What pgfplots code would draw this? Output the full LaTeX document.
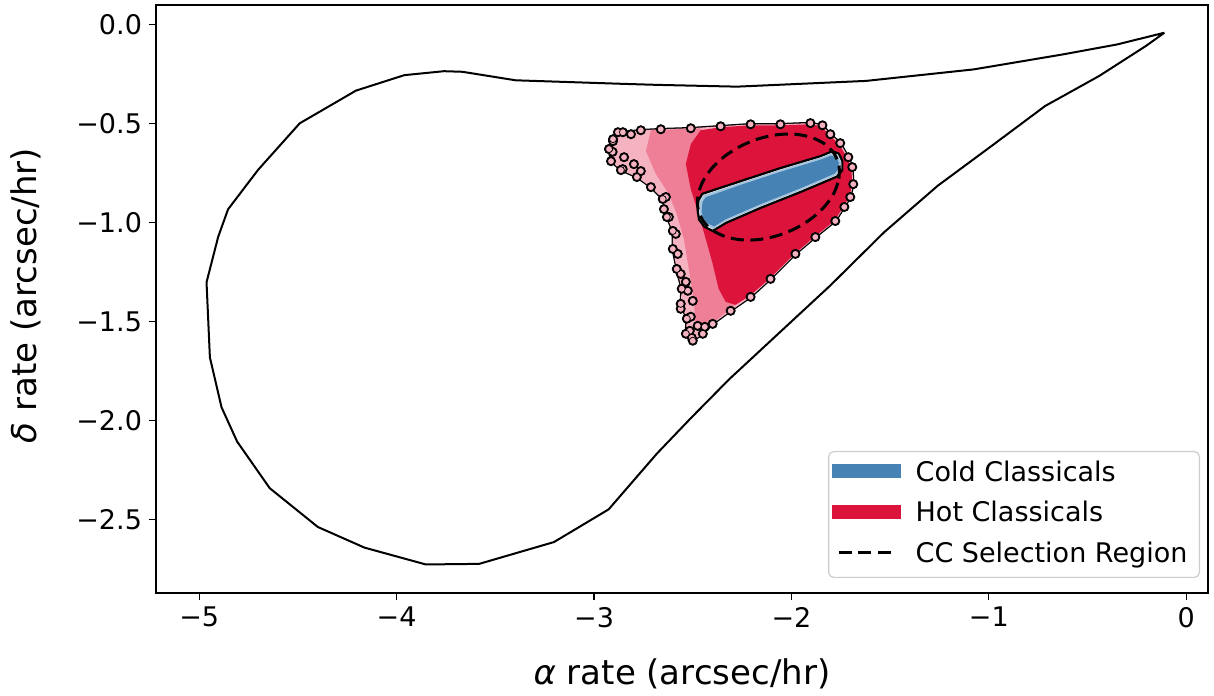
\documentclass[border=0pt]{standalone}
\usepackage{fontspec}
\setmainfont{DejaVu Sans}
\usepackage{pgfplots}
\usepackage{pgfplotstable}
\pgfplotsset{compat=1.18}
\definecolor{steelblue}{HTML}{4682B4}
\definecolor{crimson}{HTML}{DC143C}
\definecolor{hotpink}{HTML}{F5B3C2}
\definecolor{hotmid}{HTML}{EE7F97}
\definecolor{glow}{HTML}{E6EFF6}
\definecolor{glowmid}{HTML}{A5C4DD}
\definecolor{legedge}{HTML}{CCCCCC}

% closed boundary curve
\pgfplotstableread{
x y
-0.111 -0.042
-0.350 -0.101
-0.623 -0.151
-1.077 -0.227
-1.622 -0.285
-2.276 -0.314
-2.682 -0.305
-2.850 -0.300
-3.397 -0.282
-3.667 -0.239
-3.760 -0.236
-3.961 -0.256
-4.206 -0.334
-4.491 -0.499
-4.702 -0.734
-4.854 -0.933
-4.904 -1.072
-4.963 -1.301
-4.946 -1.680
-4.887 -1.932
-4.808 -2.105
-4.643 -2.340
-4.399 -2.536
-4.163 -2.640
-3.852 -2.725
-3.582 -2.722
-3.203 -2.612
-2.926 -2.447
-2.682 -2.166
-2.512 -1.989
-2.313 -1.788
-2.276 -1.754
-2.040 -1.536
-1.804 -1.318
-1.531 -1.049
-1.259 -0.814
-0.986 -0.613
-0.714 -0.411
-0.441 -0.260
-0.205 -0.109
-0.111 -0.042
}\boundary

% hot classicals: outer envelope of the cloud
\pgfplotstableread{
x y
-2.924 -0.629
-2.904 -0.579
-2.854 -0.544
-2.763 -0.534
-2.662 -0.529
-2.510 -0.524
-2.359 -0.514
-2.207 -0.504
-2.056 -0.504
-1.904 -0.498
-1.843 -0.509
-1.803 -0.554
-1.753 -0.599
-1.712 -0.670
-1.692 -0.720
-1.687 -0.806
-1.702 -0.871
-1.732 -0.921
-1.778 -0.992
-1.879 -1.073
-1.980 -1.158
-2.106 -1.284
-2.207 -1.375
-2.308 -1.445
-2.399 -1.511
-2.449 -1.561
-2.500 -1.596
-2.535 -1.561
-2.530 -1.485
-2.561 -1.410
-2.556 -1.334
-2.581 -1.234
-2.601 -1.133
-2.601 -1.042
-2.631 -0.972
-2.652 -0.881
-2.712 -0.821
-2.783 -0.770
-2.864 -0.735
-2.914 -0.690
-2.924 -0.629
}\hotouter

% hot classicals: medium-density zone
\pgfplotstableread{
x y
-2.712 -0.534
-2.460 -0.524
-2.157 -1.304
-2.283 -1.415
-2.384 -1.495
-2.449 -1.551
-2.485 -1.536
-2.495 -1.385
-2.520 -1.234
-2.545 -1.083
-2.581 -0.957
-2.621 -0.856
-2.687 -0.755
-2.737 -0.639
}\hotmidzone

% hot classicals: dense core
\pgfplotstableread{
x y
-2.460 -0.534
-2.359 -0.519
-2.207 -0.509
-2.056 -0.509
-1.904 -0.504
-1.848 -0.514
-1.808 -0.559
-1.758 -0.604
-1.717 -0.675
-1.697 -0.720
-1.692 -0.806
-1.707 -0.871
-1.737 -0.921
-1.783 -0.992
-1.884 -1.073
-1.985 -1.158
-2.111 -1.284
-2.212 -1.370
-2.283 -1.415
-2.333 -1.400
-2.369 -1.334
-2.399 -1.208
-2.434 -1.083
-2.470 -0.957
-2.510 -0.831
-2.535 -0.705
-2.510 -0.604
}\hotcore

% hot classicals: isolated objects at the edge
\pgfplotstableread{
x y
-2.906 -0.643
-2.855 -0.730
-2.813 -0.554
-2.848 -0.670
-2.798 -0.705
-2.763 -0.740
-2.636 -0.871
-2.646 -0.932
-2.621 -0.972
-2.586 -1.057
-2.576 -1.158
-2.561 -1.259
-2.535 -1.299
-2.525 -1.344
-2.500 -1.395
-2.561 -1.435
-2.510 -1.475
-2.475 -1.521
-2.515 -1.546
-2.505 -1.581
-2.439 -1.526
-2.904 -0.589
-2.879 -0.544
}\hotpts

% cold classicals band
\pgfplotstableread{
x y
-2.475 -0.942
-2.472 -0.890
-2.452 -0.855
-2.258 -0.791
-2.056 -0.725
-1.854 -0.665
-1.793 -0.640
-1.760 -0.652
-1.742 -0.690
-1.742 -0.735
-1.770 -0.768
-1.955 -0.846
-2.157 -0.926
-2.333 -1.002
-2.399 -1.042
-2.442 -1.020
-2.468 -0.985
-2.475 -0.942
}\coldouter

\pgfplotstableread{
x y
-2.466 -0.942
-2.463 -0.893
-2.444 -0.862
-2.258 -0.800
-2.056 -0.734
-1.854 -0.673
-1.796 -0.650
-1.766 -0.660
-1.750 -0.693
-1.751 -0.733
-1.775 -0.761
-1.955 -0.837
-2.157 -0.917
-2.333 -0.993
-2.397 -1.032
-2.436 -1.011
-2.459 -0.980
}\coldmid

\pgfplotstableread{
x y
-2.455 -0.942
-2.451 -0.897
-2.434 -0.872
-2.258 -0.810
-2.056 -0.744
-1.854 -0.683
-1.800 -0.662
-1.773 -0.670
-1.760 -0.697
-1.762 -0.730
-1.782 -0.753
-1.955 -0.827
-2.157 -0.907
-2.333 -0.983
-2.392 -1.020
-2.428 -1.001
-2.449 -0.975
}\coldcore

% CC selection region
\pgfplotstableread{
x y
-1.7589 -0.7779
-1.7593 -0.7110
-1.7841 -0.6514
-1.8314 -0.6035
-1.8981 -0.5704
-1.9798 -0.5543
-2.0707 -0.5563
-2.1648 -0.5765
-2.2555 -0.6132
-2.3368 -0.6641
-2.4029 -0.7256
-2.4495 -0.7936
-2.4735 -0.8635
-2.4731 -0.9304
-2.4483 -0.9900
-2.4010 -1.0379
-2.3343 -1.0710
-2.2526 -1.0871
-2.1617 -1.0851
-2.0676 -1.0649
-1.9769 -1.0282
-1.8956 -0.9773
-1.8295 -0.9158
-1.7829 -0.8478
-1.7589 -0.7779
}\ccregion

\begin{document}
\begin{tikzpicture}
\begin{axis}[
  scale only axis, width=526pt, height=294pt,
  xmin=-5.219, xmax=0.11, ymin=-2.869, ymax=0.098,
  axis line style={line width=0.6pt},
  every tick/.style={black, line width=0.6pt},
  tick align=outside, tick pos=left, major tick length=3.5pt,
  xtick={-5,-4,-3,-2,-1,0}, xticklabels={−5,−4,−3,−2,−1,0},
  ytick={0,-0.5,-1,-1.5,-2,-2.5},
  yticklabels={0.0,−0.5,−1.0,−1.5,−2.0,−2.5},
  ticklabel style={font=\fontsize{13.5}{16}\selectfont},
  xlabel={\textit{α} rate (arcsec/hr)},
  ylabel={\textit{δ} rate (arcsec/hr)},
  label style={font=\fontsize{17}{20}\selectfont},
  xlabel style={at={(axis description cs:0.5,-0.1548)}, anchor=base},
  ylabel style={at={(axis description cs:-0.1236,0.506)}, anchor=center},
  legend cell align=left,
  legend style={at={(axis description cs:1,0)}, anchor=south east,
    xshift=-4pt, yshift=7.5pt, draw=legedge, line width=0.6pt,
    rounded corners=2.5pt, fill=white,
    inner xsep=1.5pt, inner ysep=4.7pt, row sep=7.25pt,
    font=\fontsize{13.5}{16}\selectfont,
    nodes={inner ysep=0pt, inner xsep=4.5pt, text height=10pt, text depth=3pt}},
]
% boundary curve
\addplot[black, line width=1pt, line join=round, forget plot] table {\boundary};

% hot classicals: black rim, then fill
\addplot[draw=black, fill=black, line width=1.3pt, line join=round, forget plot] table {\hotouter};
\addplot[only marks, mark=*, mark size=2.3pt, mark options={fill=black, draw=none}, forget plot] table {\hotpts};
\addplot[only marks, mark=*, mark size=2.3pt, mark options={fill=black, draw=none}, forget plot] table {\hotouter};
\addplot[draw=none, fill=hotpink, forget plot] table {\hotouter};
\addplot[only marks, mark=*, mark size=1.75pt, mark options={fill=hotpink, draw=none}, forget plot] table {\hotpts};
\addplot[only marks, mark=*, mark size=1.75pt, mark options={fill=hotpink, draw=none}, forget plot] table {\hotouter};
\addplot[draw=none, fill=hotmid, forget plot] table {\hotmidzone};
\addplot[draw=none, fill=crimson, forget plot] table {\hotcore};

% cold classicals
\addplot[draw=black, fill=glow, line width=1.1pt, line join=round, forget plot] table {\coldouter};
\addplot[draw=none, fill=glowmid, forget plot] table {\coldmid};
\addplot[draw=none, fill=steelblue, forget plot] table {\coldcore};

% CC selection region
\addplot[black, line width=1.5pt, dash pattern=on 6.5pt off 3.3pt, smooth, tension=0.5, forget plot] table {\ccregion};

% legend
\addlegendimage{legend image code/.code={\fill[steelblue, draw=none, sharp corners] (0pt,-2.08pt) rectangle (34.5pt,4.92pt); \path[draw=none] (0pt,0pt) -- (37.5pt,0pt);}}
\addlegendentry{Cold Classicals}
\addlegendimage{legend image code/.code={\fill[crimson, draw=none, sharp corners] (0pt,-2.08pt) rectangle (34.5pt,4.92pt); \path[draw=none] (0pt,0pt) -- (37.5pt,0pt);}}
\addlegendentry{Hot Classicals}
\addlegendimage{legend image code/.code={\draw[black, line width=1.6pt, sharp corners, dash pattern=on 6.5pt off 3.3pt] (3.5pt,1.42pt) -- (30pt,1.42pt); \path[draw=none] (0pt,0pt) -- (37.5pt,0pt);}}
\addlegendentry{CC Selection Region}
\end{axis}
\path ([shift={(-78pt,-50.5pt)}]current axis.south west) rectangle ([shift={(3pt,2.5pt)}]current axis.north east);
\end{tikzpicture}
\end{document}
